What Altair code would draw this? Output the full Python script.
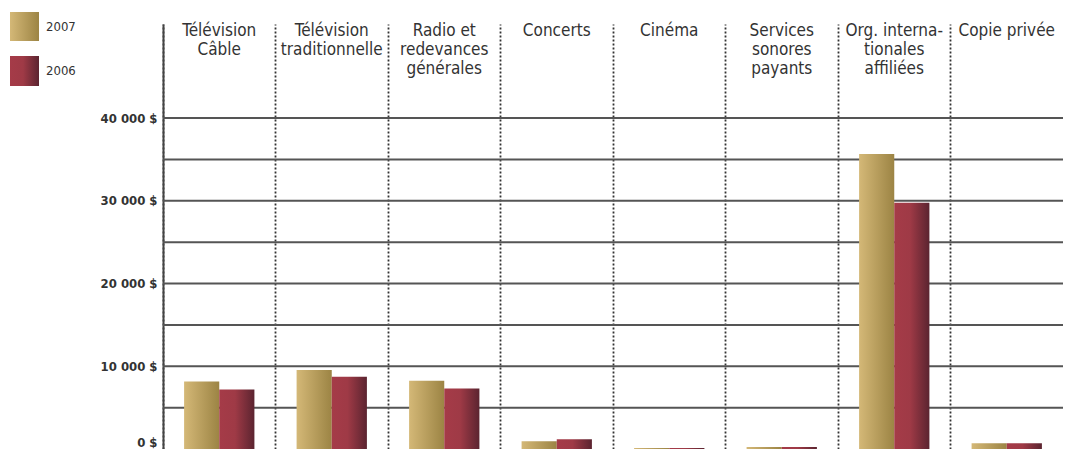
import altair as alt
import pandas as pd

# ---- data ----
categories = [
    "Télévision\nCâble",
    "Télévision\ntraditionnelle",
    "Radio et\nredevances\ngénérales",
    "Concerts",
    "Cinéma",
    "Services\nsonores\npayants",
    "Org. interna-\ntionales\naffiliées",
    "Copie privée",
]
years = ["2007", "2006"]
values_2007 = [8150, 9560, 8260, 940, 130, 240, 35650, 700]
values_2006 = [7200, 8740, 7320, 1180, 130, 240, 29750, 700]
label_ticks = [0, 10000, 20000, 30000, 40000]
grid_values = [5000, 10000, 15000, 20000, 25000, 30000, 35000, 40000]

rows = []
for c, v7, v6 in zip(categories, values_2007, values_2006):
    rows.append({"cat": c, "year": "2007", "value": v7})
    rows.append({"cat": c, "year": "2006", "value": v6})
df = pd.DataFrame(rows)
df_cats = pd.DataFrame({"cat": categories})
df_grid = pd.DataFrame({"v": grid_values})
df_leg = pd.DataFrame({"year": years})

FONT = "DejaVu Sans Condensed, sans-serif"

gold = alt.Gradient(
    gradient="linear",
    stops=[alt.GradientStop(offset=0, color="#d4b877"),
           alt.GradientStop(offset=1, color="#9c8444")],
    x1=0, x2=1, y1=0, y2=0,
)
red = alt.Gradient(
    gradient="linear",
    stops=[alt.GradientStop(offset=0, color="#a53b48"),
           alt.GradientStop(offset=0.45, color="#9f3a46"),
           alt.GradientStop(offset=1, color="#5b2430")],
    x1=0, x2=1, y1=0, y2=0,
)

x_enc = alt.X(
    "cat:N", sort=categories,
    scale=alt.Scale(domain=categories, paddingInner=0, paddingOuter=0),
    axis=alt.Axis(orient="top", labels=False, ticks=False, domain=False, title=None,
                  grid=True, gridDash=[2, 2], gridColor="#333", gridWidth=1.8,
                  bandPosition=0),
)
y_enc = alt.Y(
    "value:Q",
    scale=alt.Scale(domain=[0, 51360], nice=False, zero=True),
    axis=alt.Axis(values=label_ticks, grid=False, ticks=False, domain=True,
                  domainColor="#444", domainWidth=2, title=None,
                  labelExpr="replace(format(datum.value, ',d'), ',', ' ') + ' $'",
                  labelFont=FONT, labelFontWeight="bold", labelFontSize=13,
                  labelColor="#333", labelPadding=6, labelFlush=True),
)
xoff = alt.XOffset("year:N", sort=years,
                   scale=alt.Scale(domain=years, paddingInner=0, paddingOuter=0.6))

grid = alt.Chart(df_grid).mark_rule(color="#555", strokeWidth=2).encode(
    y=alt.Y("v:Q")
)

bars07 = alt.Chart(df).transform_filter(alt.datum.year == "2007").mark_bar(
    fill=gold).encode(x=x_enc, y=y_enc, xOffset=xoff)
bars06 = alt.Chart(df).transform_filter(alt.datum.year == "2006").mark_bar(
    fill=red).encode(x=x_enc, y=y_enc, xOffset=xoff)

headers = alt.Chart(df_cats).mark_text(
    font=FONT, fontSize=17, lineHeight=19, lineBreak="\n", baseline="top",
    align="center", color="#333",
).encode(x=alt.X("cat:N", sort=categories), y=alt.value(-1), text="cat:N")

leg07 = alt.Chart(df_leg).transform_filter(alt.datum.year == "2007").mark_rect(
    fill=gold).encode(x=alt.value(-153), x2=alt.value(-124),
                      y=alt.value(-12), y2=alt.value(17))
leg06 = alt.Chart(df_leg).transform_filter(alt.datum.year == "2006").mark_rect(
    fill=red).encode(x=alt.value(-153), x2=alt.value(-124),
                     y=alt.value(32), y2=alt.value(62))
legt07 = alt.Chart(df_leg).transform_filter(alt.datum.year == "2007").mark_text(
    font=FONT, fontSize=13, align="left", baseline="middle", color="#333").encode(
    x=alt.value(-117), y=alt.value(3), text="year:N")
legt06 = alt.Chart(df_leg).transform_filter(alt.datum.year == "2006").mark_text(
    font=FONT, fontSize=13, align="left", baseline="middle", color="#333").encode(
    x=alt.value(-117), y=alt.value(47), text="year:N")

chart = alt.layer(
    grid, bars07, bars06, headers, leg07, leg06, legt07, legt06
).properties(
    width=900, height=425,
    autosize=alt.AutoSizeParams(type="none"),
    padding={"left": 155, "top": 16, "right": 0, "bottom": 0},
).configure_view(stroke=None)

chart.save("out.html", embed_options={"renderer": "svg", "actions": False})
